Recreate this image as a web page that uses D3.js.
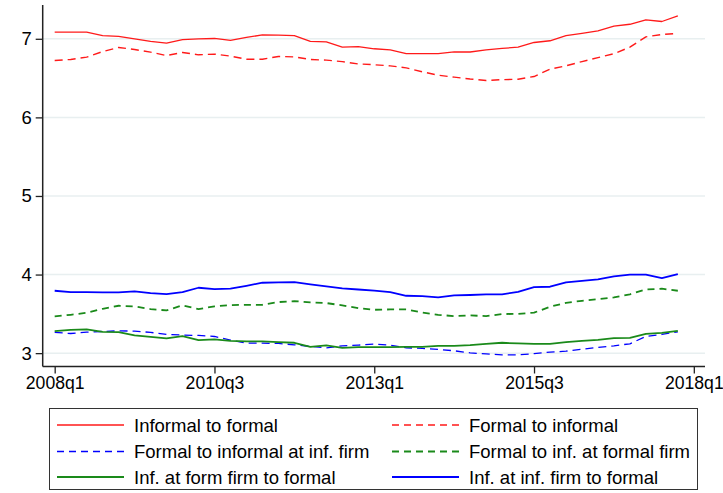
<!DOCTYPE html>
<html>
<head>
<meta charset="utf-8">
<script src="https://cdn.jsdelivr.net/npm/d3@7"></script>
<style>
  html, body { margin: 0; padding: 0; background: #fff; }
  svg { display: block; font-family: Arial, "Liberation Sans", sans-serif; }
</style>
</head>
<body>
<svg id="chart" width="723" height="493"></svg>
<script>
// Quarterly periods 2008q1 .. 2017q4 (index 0..39)
const quarters = d3.range(40);
const tickQuarters = [0, 10, 20, 30, 40];
const tickLabels = ["2008q1", "2010q3", "2013q1", "2015q3", "2018q1"];
const yTicks = [3, 4, 5, 6, 7];

const informalToFormal = [7.085,7.085,7.085,7.04,7.03,7.0,6.966,6.945,6.99,7.0,7.004,6.98,7.017,7.05,7.047,7.04,6.966,6.96,6.894,6.90,6.873,6.86,6.81,6.81,6.81,6.834,6.832,6.86,6.877,6.894,6.953,6.975,7.04,7.07,7.10,7.16,7.185,7.242,7.22,7.293];
const formalToInformal = [6.724,6.737,6.766,6.838,6.89,6.864,6.83,6.787,6.826,6.796,6.805,6.78,6.74,6.74,6.775,6.77,6.737,6.728,6.71,6.68,6.67,6.656,6.63,6.58,6.537,6.512,6.488,6.47,6.48,6.485,6.52,6.614,6.656,6.71,6.76,6.81,6.894,7.025,7.055,7.068];
const formalToInfAtInfFirm = [3.264,3.25,3.267,3.276,3.284,3.28,3.264,3.238,3.23,3.225,3.212,3.166,3.127,3.127,3.123,3.106,3.085,3.068,3.093,3.102,3.115,3.102,3.068,3.06,3.047,3.03,3.004,2.99,2.978,2.978,2.993,3.013,3.025,3.05,3.072,3.093,3.119,3.212,3.238,3.271];
const formalToInfAtFormalFirm = [3.467,3.488,3.513,3.564,3.603,3.595,3.56,3.544,3.608,3.56,3.595,3.611,3.615,3.615,3.65,3.662,3.646,3.637,3.608,3.573,3.552,3.556,3.556,3.518,3.488,3.471,3.48,3.471,3.497,3.50,3.515,3.59,3.64,3.666,3.688,3.709,3.748,3.811,3.82,3.794];
const infFormFirmToFormal = [3.28,3.297,3.302,3.271,3.267,3.225,3.208,3.187,3.217,3.166,3.176,3.157,3.149,3.149,3.14,3.132,3.08,3.098,3.068,3.076,3.076,3.076,3.08,3.08,3.093,3.093,3.102,3.119,3.132,3.123,3.117,3.119,3.14,3.157,3.17,3.19,3.195,3.246,3.258,3.284];
const infInfFirmToFormal = [3.794,3.777,3.777,3.773,3.773,3.786,3.764,3.752,3.777,3.832,3.815,3.82,3.857,3.896,3.90,3.904,3.875,3.85,3.824,3.81,3.795,3.777,3.73,3.726,3.709,3.735,3.74,3.748,3.748,3.781,3.84,3.845,3.90,3.92,3.939,3.977,3.998,3.998,3.955,4.006];

const seriesNames = ["Informal to formal", "Formal to informal", "Formal to informal at inf. firm",
  "Formal to inf. at formal firm", "Inf. at form firm to formal", "Inf. at inf. firm to formal"];

const series = [
  { name: seriesNames[0], values: informalToFormal,        color: "#ff1a1a", dash: null,  width: 1.3 },
  { name: seriesNames[1], values: formalToInformal,        color: "#ff1a1a", dash: "8,5", width: 1.4 },
  { name: seriesNames[2], values: formalToInfAtInfFirm,    color: "#0000ff", dash: "8,5", width: 1.3 },
  { name: seriesNames[3], values: formalToInfAtFormalFirm, color: "#1a8a1a", dash: "7,5", width: 1.8 },
  { name: seriesNames[4], values: infFormFirmToFormal,     color: "#1a8a1a", dash: null,  width: 1.8 },
  { name: seriesNames[5], values: infInfFirmToFormal,      color: "#0000ff", dash: null,  width: 1.8 }
];

const svg = d3.select("#chart");

const x = d3.scaleLinear().domain([-0.75, 40.7]).range([42.7, 705]);
const y = d3.scaleLinear().domain([2.83, 7.43]).range([366.5, 5]);

// horizontal grid
svg.append("g").selectAll("line").data(yTicks).join("line")
  .attr("x1", x.range()[0]).attr("x2", x.range()[1])
  .attr("y1", d => y(d)).attr("y2", d => y(d))
  .attr("stroke", "#e8eff0").attr("stroke-width", 1.5);

// series lines
const line = d3.line().x((d, i) => x(quarters[i])).y(d => y(d));
svg.append("g").selectAll("path").data(series).join("path")
  .attr("d", s => line(s.values))
  .attr("fill", "none")
  .attr("stroke", s => s.color)
  .attr("stroke-width", s => s.width)
  .attr("stroke-dasharray", s => s.dash)
  .attr("stroke-linejoin", "round");

// y axis
const yAxis = svg.append("g").attr("transform", `translate(${x.range()[0]},0)`)
  .call(d3.axisLeft(y).tickValues(yTicks).tickFormat(d3.format("d")).tickSize(7).tickPadding(4));
// x axis
const xAxis = svg.append("g").attr("transform", `translate(0,${y.range()[0]})`)
  .call(d3.axisBottom(x).tickValues(tickQuarters).tickFormat((d, i) => tickLabels[i]).tickSize(7).tickPadding(3));

[yAxis, xAxis].forEach(g => {
  g.select(".domain").attr("stroke", "#222").attr("stroke-width", 1.5);
  g.selectAll(".tick line").attr("stroke", "#222").attr("stroke-width", 1.3);
  g.selectAll(".tick text").attr("fill", "#000").style("font-size", "17.6px")
    .style("font-family", "Arial, 'Liberation Sans', sans-serif");
});
yAxis.selectAll(".tick text").style("font-size", "18.5px");
yAxis.select(".domain").attr("d", `M0,${y.range()[1]}V${y.range()[0]}`);
xAxis.select(".domain").attr("d", `M${x.range()[0]},0H${x.range()[1]}`);

// legend
const legend = svg.append("g");
legend.append("rect")
  .attr("x", 49.5).attr("y", 408.5).attr("width", 648).attr("height", 81)
  .attr("fill", "#fff").attr("stroke", "#333").attr("stroke-width", 1);

const rowY = [425, 451.5, 477];
const colKeyX = [57, 392];
const colTextX = [134, 469];
const items = legend.selectAll("g.item").data(series).join("g").attr("class", "item")
  .attr("transform", (s, i) => `translate(0,${rowY[Math.floor(i / 2)]})`);
items.append("line")
  .attr("x1", (s, i) => colKeyX[i % 2]).attr("x2", (s, i) => colKeyX[i % 2] + 67)
  .attr("y1", 0).attr("y2", 0)
  .attr("stroke", s => s.color)
  .attr("stroke-width", s => s.width)
  .attr("stroke-dasharray", s => s.dash ? "7,5" : null);
items.append("text")
  .attr("x", (s, i) => colTextX[i % 2]).attr("y", 0).attr("dy", "0.36em")
  .style("font-size", "18.5px").attr("fill", "#000")
  .text(s => s.name);
</script>
</body>
</html>
